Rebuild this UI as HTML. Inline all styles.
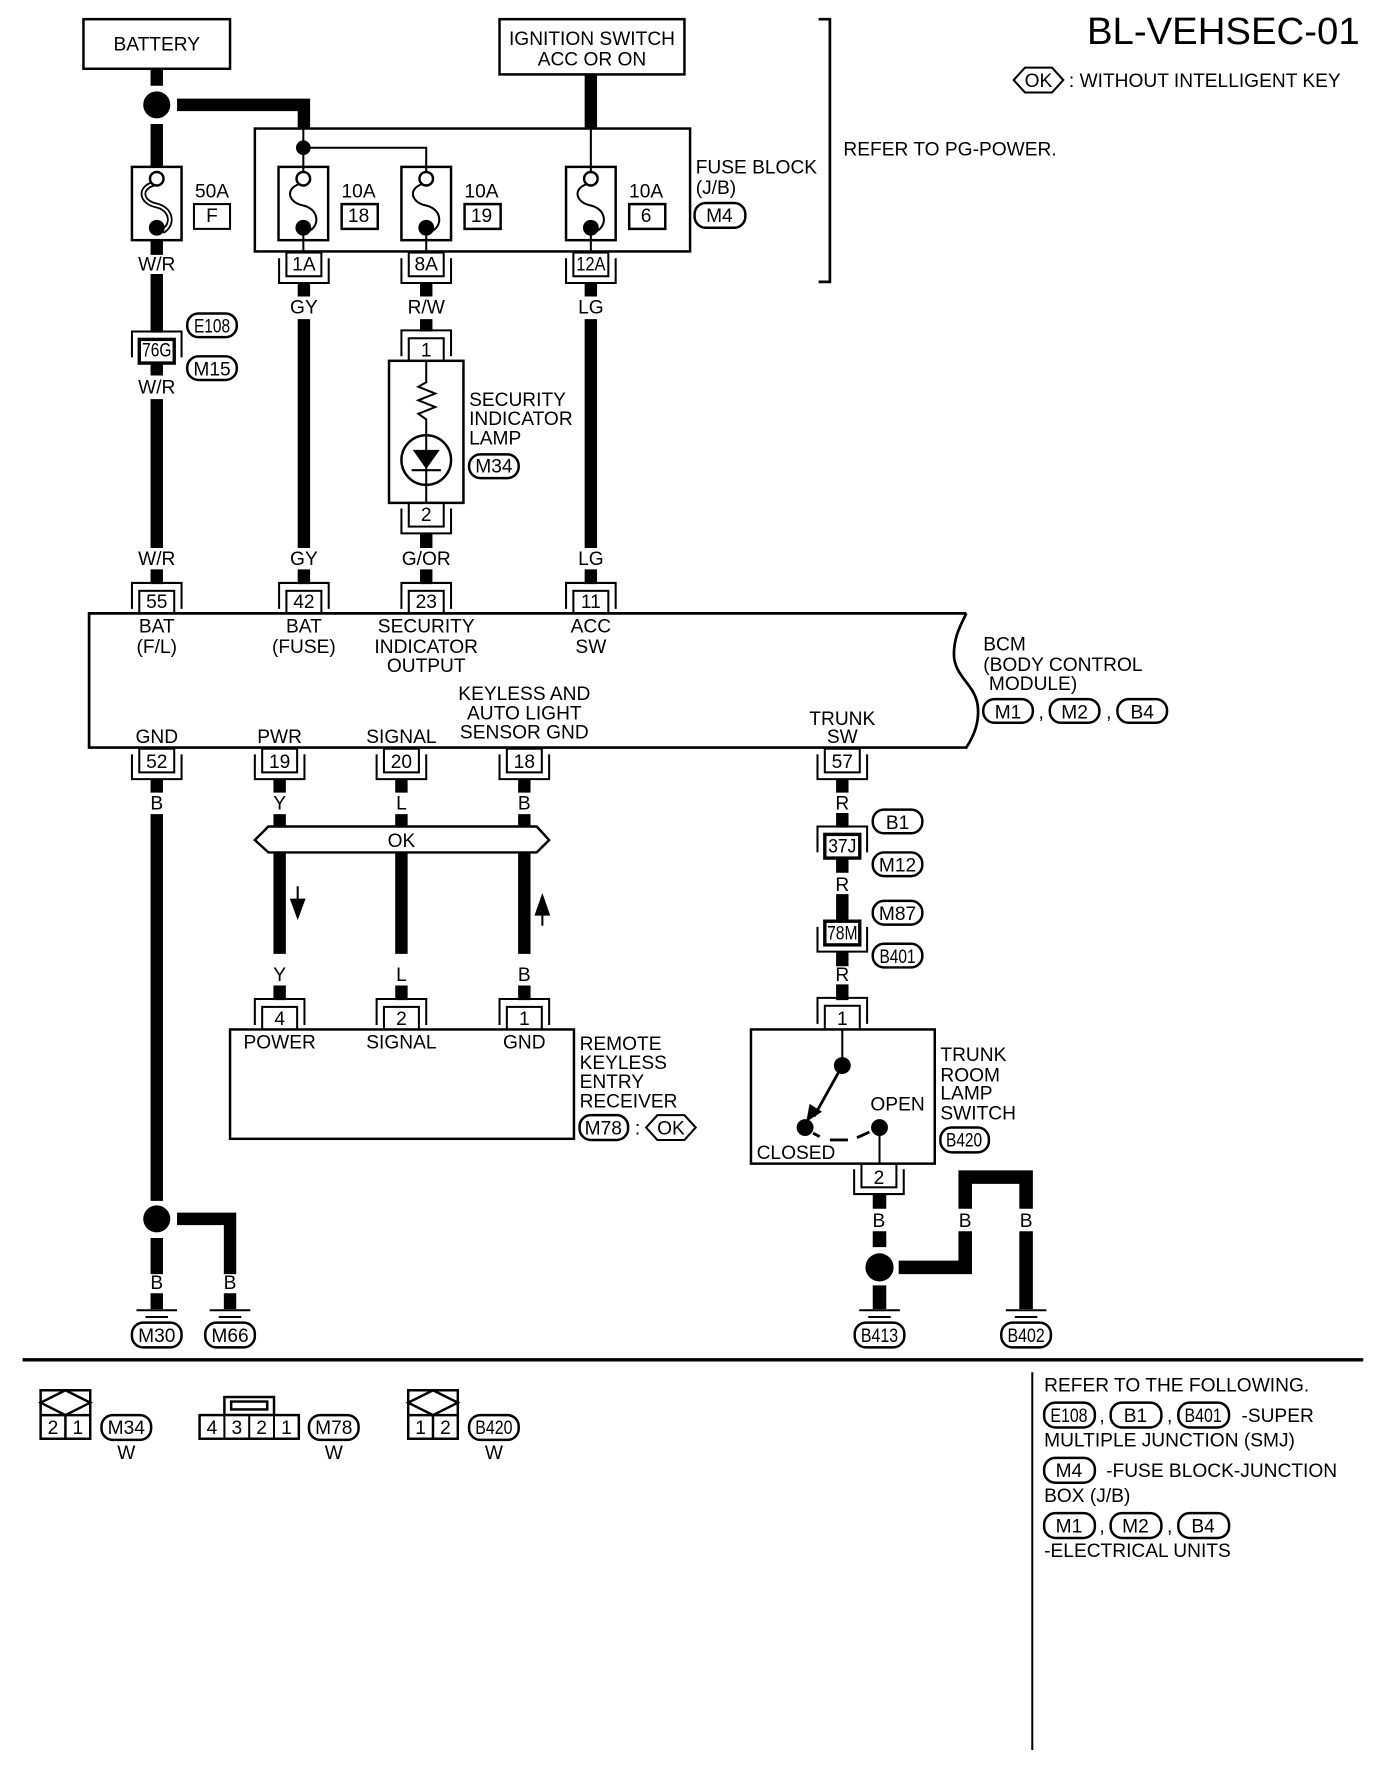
<!DOCTYPE html>
<html><head><meta charset="utf-8"><style>
html,body{margin:0;padding:0;background:#fff}
svg{display:block}
text{font-family:"Liberation Sans",sans-serif;font-size:17px;fill:#000}
.c{text-anchor:middle}
.w{stroke:#000;stroke-width:11;fill:none}
.t{stroke:#000;stroke-width:1.8;fill:none}
.k{stroke:#000;stroke-width:3;fill:none}
.b{stroke:#000;stroke-width:2.2;fill:#fff}
.n{fill:#000}
</style></head><body>
<svg width="1392" height="1768" viewBox="0 0 1234.5 1568" xmlns="http://www.w3.org/2000/svg">
<defs>
<g id="fuse"><rect class="b" x="-22" y="0" width="44" height="65"/><path class="t" d="M0,0V4M0,60V65M-3,15C-16,19 -14,31 -1,34C14,37 15,52 5,57"/><circle class="b" cx="0" cy="10.5" r="6"/><circle class="n" cx="0" cy="54" r="7"/></g>
<g id="cd"><path class="t" d="M-22,5V27H22V5"/><rect class="t" x="-15.5" y="0" width="31" height="21"/></g>
<g id="cu"><path class="t" d="M-22,23V0H22V23"/><rect class="t" x="-15.5" y="7" width="31" height="21"/></g>
<g id="gnd"><path class="t" d="M-18,0H18M-10,6H10M-5,12H5"/></g>
<g id="hex"><path class="t" d="M-22,0L-12,-11H12L22,0L12,11H-12Z"/></g>
</defs>

<!-- top boxes -->
<rect class="b" x="74" y="17" width="130" height="44"/>
<text class="c" x="139" y="45">BATTERY</text>
<rect class="b" x="443" y="17" width="164" height="49"/>
<text class="c" x="525" y="40">IGNITION SWITCH</text>
<text class="c" x="525" y="58">ACC OR ON</text>

<!-- title -->
<text x="964" y="39" style="font-size:34px">BL-VEHSEC-01</text>
<use href="#hex" x="921" y="71"/><text class="c" x="921" y="77">OK</text>
<text x="948" y="77">: WITHOUT INTELLIGENT KEY</text>
<path d="M726,17H736V250H726" fill="none" stroke="#000" stroke-width="2.4"/>
<text x="748" y="138">REFER TO PG-POWER.</text>

<!-- wires top -->
<path class="w" d="M139,61V76M139,110V148M139,213V226M139,243V295M139,322V333M139,354V486M139,505V518"/>
<circle class="n" cx="139" cy="93" r="12"/>
<path class="w" d="M157,93H269.500V115"/>
<path class="w" d="M524,66V115"/>
<path class="w" d="M269.500,251V263M269.500,283V486M269.500,505V518"/>
<path class="w" d="M378,251V263M378,283V294M378,473V486M378,505V518"/>
<path class="w" d="M524,251V263M524,283V486M524,505V518"/>

<!-- fuse block -->
<rect class="b" x="226" y="114" width="386" height="109"/>
<path class="t" d="M269,114V148M269,131H378V148M524,114V148M269,213V224M378,213V224M524,213V224"/>
<circle class="n" cx="269" cy="131" r="6.500"/>
<g fill="none"><g transform="translate(139,148)"><rect class="b" x="-22" y="0" width="44" height="65"/><path d="M-3,15C-16,19 -14,31 -1,34C14,37 15,52 5,57" stroke="#000" stroke-width="5" fill="none"/><path d="M-3,15C-16,19 -14,31 -1,34C14,37 15,52 5,57" stroke="#fff" stroke-width="1.800" fill="none"/><circle class="b" cx="0" cy="10.500" r="6"/><circle class="n" cx="0" cy="54" r="7"/></g></g>
<use href="#fuse" x="269" y="148"/><use href="#fuse" x="378" y="148"/><use href="#fuse" x="524" y="148"/>
<text class="c" x="188" y="175">50A</text><rect class="t" x="172" y="181" width="32" height="22"/><text class="c" x="188" y="197">F</text>
<text class="c" x="318" y="175">10A</text><rect class="b" x="303" y="181" width="32" height="22"/><text class="c" x="318" y="197">18</text>
<text class="c" x="427" y="175">10A</text><rect class="b" x="412" y="181" width="32" height="22"/><text class="c" x="427" y="197">19</text>
<text class="c" x="573" y="175">10A</text><rect class="b" x="558" y="181" width="32" height="22"/><text class="c" x="573" y="197">6</text>
<text x="617" y="154">FUSE BLOCK</text><text x="617" y="172">(J/B)</text>
<rect class="b" x="616" y="180" width="45" height="22" rx="10"/><text class="c" x="638" y="197">M4</text>

<!-- fuse connectors -->
<use href="#cd" x="269.500" y="224"/><text class="c" x="269.500" y="240">1A</text>
<use href="#cd" x="378" y="224"/><text class="c" x="378" y="240">8A</text>
<use href="#cd" x="524" y="224"/><text class="c" x="524" y="240" textLength="26" lengthAdjust="spacingAndGlyphs">12A</text>
<text class="c" x="139" y="240">W/R</text><text class="c" x="269.500" y="278">GY</text><text class="c" x="378" y="278">R/W</text><text class="c" x="524" y="278">LG</text>

<!-- 76G -->
<use href="#cu" x="139" y="294"/><rect class="k" x="123.500" y="301" width="31" height="21"/><text class="c" x="139" y="316" textLength="26" lengthAdjust="spacingAndGlyphs">76G</text>
<text class="c" x="139" y="349">W/R</text>
<rect class="b" x="166" y="278" width="44" height="21" rx="10"/><text class="c" x="188" y="295" textLength="32" lengthAdjust="spacingAndGlyphs">E108</text>
<rect class="b" x="166" y="316" width="44" height="21" rx="10"/><text class="c" x="188" y="333">M15</text>

<!-- lamp -->
<use href="#cu" x="378" y="293"/><text class="c" x="378" y="316">1</text>
<rect class="b" x="345" y="320" width="66" height="126"/>
<path class="t" d="M378,320V339L371,343L386,349L371,355L386,361L371,367L378,372V387"/>
<circle cx="378" cy="408" r="22" class="b"/>
<path class="n" d="M366,399H390L378,416Z"/><path class="t" d="M378,387V446M365,417H391"/>
<use href="#cd" x="378" y="446"/><text class="c" x="378" y="462">2</text>
<text x="416" y="360">SECURITY</text><text x="416" y="377">INDICATOR</text><text x="416" y="394">LAMP</text>
<rect class="b" x="416" y="403" width="44" height="21" rx="10"/><text class="c" x="438" y="419">M34</text>

<!-- labels above BCM -->
<text class="c" x="139" y="501">W/R</text><text class="c" x="269.500" y="501">GY</text><text class="c" x="378" y="501">G/OR</text><text class="c" x="524" y="501">LG</text>
<use href="#cu" x="139" y="517"/><text class="c" x="139" y="539">55</text>
<use href="#cu" x="269.500" y="517"/><text class="c" x="269.500" y="539">42</text>
<use href="#cu" x="378" y="517"/><text class="c" x="378" y="539">23</text>
<use href="#cu" x="524" y="517"/><text class="c" x="524" y="539">11</text>

<!-- BCM -->
<path fill="#fff" stroke="#000" stroke-width="2.400" d="M857,544H79V663H857C864,652 869,640 867,625C864,606 846,600 846,580C846,566 851,556 857,544"/>
<text class="c" x="139" y="561">BAT</text><text class="c" x="139" y="579">(F/L)</text>
<text class="c" x="269.500" y="561">BAT</text><text class="c" x="269.500" y="579">(FUSE)</text>
<text class="c" x="378" y="561">SECURITY</text><text class="c" x="378" y="579">INDICATOR</text><text class="c" x="378" y="596">OUTPUT</text>
<text class="c" x="524" y="561">ACC</text><text class="c" x="524" y="579">SW</text>
<text class="c" x="465" y="621">KEYLESS AND</text><text class="c" x="465" y="638">AUTO LIGHT</text><text class="c" x="465" y="655">SENSOR GND</text>
<text class="c" x="139" y="659">GND</text><text class="c" x="248" y="659">PWR</text><text class="c" x="356" y="659">SIGNAL</text>
<text class="c" x="747" y="643">TRUNK</text><text class="c" x="747" y="659">SW</text>
<text x="872" y="577">BCM</text><text x="872" y="595">(BODY CONTROL</text><text x="877" y="612">MODULE)</text>
<rect class="b" x="872" y="620" width="44" height="21" rx="10"/><text class="c" x="894" y="637">M1</text><text x="921" y="637">,</text>
<rect class="b" x="931" y="620" width="44" height="21" rx="10"/><text class="c" x="953" y="637">M2</text><text x="981" y="637">,</text>
<rect class="b" x="991" y="620" width="44" height="21" rx="10"/><text class="c" x="1013" y="637">B4</text>

<!-- BCM bottom connectors -->
<use href="#cd" x="139" y="664"/><text class="c" x="139" y="681">52</text>
<use href="#cd" x="248" y="664"/><text class="c" x="248" y="681">19</text>
<use href="#cd" x="356" y="664"/><text class="c" x="356" y="681">20</text>
<use href="#cd" x="465" y="664"/><text class="c" x="465" y="681">18</text>
<use href="#cd" x="747" y="664"/><text class="c" x="747" y="681">57</text>

<!-- wires lower -->
<path class="w" d="M139,691V703M139,722V1065M139,1098V1130M139,1147V1161"/>
<circle class="n" cx="139" cy="1081" r="12"/>
<path class="w" d="M157,1081H204V1130M204,1147V1161"/>
<path class="w" d="M248,691V703M248,722V846M248,874V887"/>
<path class="w" d="M356,691V703M356,722V846M356,874V887"/>
<path class="w" d="M465,691V703M465,722V846M465,874V887"/>
<path class="w" d="M747,691V703M747,721V734M747,760V774M747,793V818M747,844V857M747,873V887"/>
<text class="c" x="139" y="718">B</text><text class="c" x="248" y="718">Y</text><text class="c" x="356" y="718">L</text><text class="c" x="465" y="718">B</text><text class="c" x="747" y="718">R</text>
<text class="c" x="248" y="870">Y</text><text class="c" x="356" y="870">L</text><text class="c" x="465" y="870">B</text><text class="c" x="747" y="870">R</text>
<text class="c" x="747" y="790">R</text>

<!-- OK bus -->
<path class="b" d="M226,745L238,733H476L487,745L476,756H238Z"/>
<text class="c" x="356" y="751">OK</text>
<path class="t" d="M264,786V802"/><path class="n" d="M257,797H271L264,816Z"/>
<path class="t" d="M481,806V821"/><path class="n" d="M474,812H488L481,792Z"/>

<!-- receiver -->
<use href="#cu" x="248" y="886"/><text class="c" x="248" y="909">4</text>
<use href="#cu" x="356" y="886"/><text class="c" x="356" y="909">2</text>
<use href="#cu" x="465" y="886"/><text class="c" x="465" y="909">1</text>
<rect class="b" x="204" y="913" width="305" height="97"/>
<text class="c" x="248" y="930">POWER</text><text class="c" x="356" y="930">SIGNAL</text><text class="c" x="465" y="930">GND</text>
<text x="514" y="931">REMOTE</text><text x="514" y="948">KEYLESS</text><text x="514" y="965">ENTRY</text><text x="514" y="982">RECEIVER</text>
<rect class="b" x="514" y="989" width="43" height="22" rx="10"/><text class="c" x="535" y="1006">M78</text><text x="563" y="1006">:</text>
<use href="#hex" x="595" y="1000"/><text class="c" x="595" y="1006">OK</text>

<!-- inline trunk connectors -->
<use href="#cu" x="747" y="733"/><rect class="k" x="731.500" y="740" width="31" height="21"/><text class="c" x="747" y="756" textLength="25" lengthAdjust="spacingAndGlyphs">37J</text>
<use href="#cd" x="747" y="817"/><rect class="k" x="731.500" y="817" width="31" height="21"/><text class="c" x="747" y="833" textLength="27" lengthAdjust="spacingAndGlyphs">78M</text>
<rect class="b" x="774" y="718" width="44" height="21" rx="10"/><text class="c" x="796" y="735">B1</text>
<rect class="b" x="774" y="756" width="44" height="21" rx="10"/><text class="c" x="796" y="773">M12</text>
<rect class="b" x="774" y="799" width="44" height="21" rx="10"/><text class="c" x="796" y="816">M87</text>
<rect class="b" x="774" y="837" width="44" height="21" rx="10"/><text class="c" x="796" y="854" textLength="32" lengthAdjust="spacingAndGlyphs">B401</text>

<!-- trunk switch -->
<use href="#cu" x="747" y="885"/><text class="c" x="747" y="909">1</text>
<rect class="b" x="666" y="913" width="163" height="119"/>
<path class="t" d="M747,913V945M780,1000V1032"/>
<circle class="n" cx="747" cy="945" r="7.500"/><circle class="n" cx="714" cy="1000" r="7.500"/><circle class="n" cx="780" cy="1000" r="7.500"/>
<path d="M747,945L722,990" stroke="#000" stroke-width="2.500"/><path class="n" d="M715,995L718,979L729,986Z"/>
<path d="M721,1005L727,1008M736,1011H752M760,1009L771,1004" stroke="#000" stroke-width="2.500" fill="none"/>
<text x="671" y="1028">CLOSED</text><text class="c" x="796" y="985">OPEN</text>
<text x="834" y="941">TRUNK</text><text x="834" y="959">ROOM</text><text x="834" y="975">LAMP</text><text x="834" y="993">SWITCH</text>
<rect class="b" x="834" y="1000" width="43" height="22" rx="10"/><text class="c" x="855" y="1017" textLength="32" lengthAdjust="spacingAndGlyphs">B420</text>
<use href="#cd" x="779.500" y="1032"/><text class="c" x="779.500" y="1050">2</text>

<!-- right grounds -->
<path class="w" style="stroke-width:12" d="M780,1059V1072M780,1092V1106M780,1140V1161"/>
<circle class="n" cx="780" cy="1124" r="12.500"/>
<path class="w" style="stroke-width:12" d="M797,1124H856V1092M856,1072V1044H910V1072M910,1092V1161"/>
<text class="c" x="779.500" y="1088">B</text><text class="c" x="856" y="1088">B</text><text class="c" x="910" y="1088">B</text>
<text class="c" x="139" y="1143">B</text><text class="c" x="204" y="1143">B</text>
<use href="#gnd" x="139" y="1162"/><use href="#gnd" x="204" y="1162"/><use href="#gnd" x="780" y="1162"/><use href="#gnd" x="910" y="1162"/>
<rect class="b" x="117" y="1173" width="44" height="22" rx="10"/><text class="c" x="139" y="1190">M30</text>
<rect class="b" x="182" y="1173" width="44" height="22" rx="10"/><text class="c" x="204" y="1190">M66</text>
<rect class="b" x="758" y="1173" width="44" height="22" rx="10"/><text class="c" x="780" y="1190" textLength="33" lengthAdjust="spacingAndGlyphs">B413</text>
<rect class="b" x="888" y="1173" width="44" height="22" rx="10"/><text class="c" x="910" y="1190" textLength="33" lengthAdjust="spacingAndGlyphs">B402</text>

<!-- separators -->
<path d="M20,1206H1209" stroke="#000" stroke-width="3"/>
<path d="M915.500,1217V1552" stroke="#000" stroke-width="1.800"/>

<!-- connector icons -->
<rect class="b" x="36" y="1233" width="44" height="43"/><path class="b" style="fill:none" d="M36,1255H80M58,1255V1276M36,1244L58,1233L80,1244L58,1255Z"/>
<text class="c" x="47" y="1272">2</text><text class="c" x="69" y="1272">1</text>
<rect class="b" x="90" y="1255" width="44" height="22" rx="10"/><text class="c" x="112" y="1272">M34</text><text class="c" x="112" y="1294">W</text>

<rect class="b" x="199" y="1239" width="44" height="16"/><rect class="b" x="205" y="1243" width="32" height="7"/>
<rect class="b" x="177" y="1255" width="88" height="21"/><path class="t" d="M199,1255V1276M221,1255V1276M243,1255V1276"/>
<text class="c" x="188" y="1272">4</text><text class="c" x="210" y="1272">3</text><text class="c" x="232" y="1272">2</text><text class="c" x="254" y="1272">1</text>
<rect class="b" x="274" y="1255" width="44" height="22" rx="10"/><text class="c" x="296" y="1272">M78</text><text class="c" x="296" y="1294">W</text>

<rect class="b" x="362" y="1233" width="44" height="43"/><path class="b" style="fill:none" d="M362,1255H406M384,1255V1276M362,1244L384,1233L406,1244L384,1255Z"/>
<text class="c" x="373" y="1272">1</text><text class="c" x="395" y="1272">2</text>
<rect class="b" x="416" y="1255" width="44" height="22" rx="10"/><text class="c" x="438" y="1272" textLength="33" lengthAdjust="spacingAndGlyphs">B420</text><text class="c" x="438" y="1294">W</text>

<!-- notes -->
<text x="926" y="1234">REFER TO THE FOLLOWING.</text>
<rect class="b" x="926" y="1244" width="45" height="22" rx="10"/><text class="c" x="948" y="1261" textLength="33" lengthAdjust="spacingAndGlyphs">E108</text><text x="975" y="1261">,</text>
<rect class="b" x="985" y="1244" width="45" height="22" rx="10"/><text class="c" x="1007" y="1261">B1</text><text x="1035" y="1261">,</text>
<rect class="b" x="1045" y="1244" width="45" height="22" rx="10"/><text class="c" x="1067" y="1261" textLength="33" lengthAdjust="spacingAndGlyphs">B401</text>
<text x="1101" y="1261">-SUPER</text>
<text x="926" y="1283">MULTIPLE JUNCTION (SMJ)</text>
<rect class="b" x="926" y="1293" width="45" height="22" rx="10"/><text class="c" x="948" y="1310">M4</text>
<text x="981" y="1310">-FUSE BLOCK-JUNCTION</text>
<text x="926" y="1332">BOX (J/B)</text>
<rect class="b" x="926" y="1342" width="45" height="22" rx="10"/><text class="c" x="948" y="1359">M1</text><text x="975" y="1359">,</text>
<rect class="b" x="985" y="1342" width="45" height="22" rx="10"/><text class="c" x="1007" y="1359">M2</text><text x="1035" y="1359">,</text>
<rect class="b" x="1045" y="1342" width="45" height="22" rx="10"/><text class="c" x="1067" y="1359">B4</text>
<text x="926" y="1381">-ELECTRICAL UNITS</text>
</svg>
</body></html>
